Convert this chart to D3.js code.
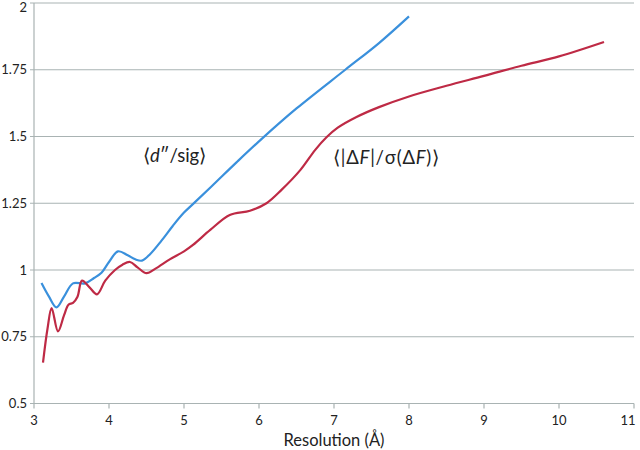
<!DOCTYPE html>
<html><head><meta charset="utf-8">
<script src="https://cdnjs.cloudflare.com/ajax/libs/d3/7.8.5/d3.min.js"></script>
<style>body{margin:0;background:#fff}svg{display:block;font-family:Lato,"Open Sans",sans-serif}</style>
</head><body><svg id="c" width="640" height="450"></svg>
<script>
const xTicks = [3,4,5,6,7,8,9,10,11];
const yTicks = [0.5,0.75,1,1.25,1.5,1.75,2];
const yTickLabels = ["0.5","0.75","1","1.25","1.5","1.75","2"];
const sigRes = [3.1,3.2,3.3,3.4,3.52,3.68,3.8,3.9,4.0,4.12,4.25,4.35,4.44,4.55,4.7,4.85,5.0,5.15,5.4,5.7,6.04,6.5,7.15,7.6,8.0];
const sigVal = [0.951,0.9,0.86,0.9,0.95,0.95,0.97,0.99,1.03,1.07,1.055,1.04,1.035,1.06,1.11,1.165,1.215,1.255,1.322,1.403,1.492,1.605,1.75,1.85,1.95];
const dfRes = [3.12,3.18,3.235,3.32,3.4,3.46,3.52,3.58,3.64,3.74,3.84,3.95,4.08,4.18,4.28,4.38,4.5,4.62,4.81,5.0,5.12,5.35,5.61,5.88,6.1,6.3,6.55,6.75,6.9,7.05,7.3,7.6,8.0,8.5,9.0,9.5,10.0,10.6];
const dfVal = [0.653,0.78,0.857,0.77,0.83,0.87,0.877,0.9,0.96,0.935,0.909,0.96,1.0,1.02,1.03,1.01,0.988,1.005,1.04,1.07,1.094,1.15,1.206,1.222,1.25,1.3,1.374,1.45,1.497,1.533,1.573,1.61,1.65,1.69,1.727,1.765,1.80,1.854];

const svg = d3.select("#c");
const x = d3.scaleLinear().domain([3,11]).range([34,634]);
const y = d3.scaleLinear().domain([0.5,2]).range([403.5,3]);
const grid = "#a9b3b3";

svg.append("g").selectAll("line").data(yTicks).join("line")
  .attr("x1",30).attr("x2",634).attr("y1",d=>y(d)).attr("y2",d=>y(d))
  .attr("stroke",grid).attr("stroke-width",1.2);
svg.append("line").attr("x1",34).attr("x2",34).attr("y1",y(2)).attr("y2",y(0.5)+0.5)
  .attr("stroke",grid).attr("stroke-width",1.2);
svg.append("g").selectAll("line").data(xTicks).join("line")
  .attr("x1",d=>x(d)).attr("x2",d=>x(d)).attr("y1",y(0.5)).attr("y2",y(0.5)+5)
  .attr("stroke",grid).attr("stroke-width",1.2);
svg.append("g").selectAll("text").data(yTicks).join("text")
  .attr("x",27).attr("y",d=>Math.max(y(d)+4.5,12)).attr("text-anchor","end")
  .attr("font-size",13).attr("fill","#222").text((d,i)=>yTickLabels[i]);
svg.append("g").selectAll("text").data(xTicks).join("text")
  .attr("x",d=>Math.min(x(d),628)).attr("y",425).attr("text-anchor","middle")
  .attr("font-size",13).attr("fill","#222").text(d=>d);
svg.append("text").attr("x",334).attr("y",446).attr("text-anchor","middle")
  .attr("font-size",16.5).attr("fill","#222").text("Resolution (Å)");

const line = d3.line().x(d=>x(d[0])).y(d=>y(d[1])).curve(d3.curveCatmullRom.alpha(0.5));
svg.append("path").datum(sigRes.map((r,i)=>[r,sigVal[i]]))
  .attr("d",line).attr("fill","none").attr("stroke","#3a90dc").attr("stroke-width",2.2);
svg.append("path").datum(dfRes.map((r,i)=>[r,dfVal[i]]))
  .attr("d",line).attr("fill","none").attr("stroke","#be2a45").attr("stroke-width",2.2);

const a1 = svg.append("text").attr("x",143).attr("y",162).attr("font-size",18.5).attr("fill","#222");
a1.append("tspan").text("⟨");
a1.append("tspan").attr("font-style","italic").text("d");
a1.append("tspan").text("″/sig⟩");
const a2 = svg.append("text").attr("x",333).attr("y",164).attr("font-size",18.5).attr("fill","#222")
  .attr("letter-spacing",0.8);
a2.append("tspan").text("⟨|Δ");
a2.append("tspan").attr("font-style","italic").text("F");
a2.append("tspan").text("|/σ(Δ");
a2.append("tspan").attr("font-style","italic").text("F");
a2.append("tspan").text(")⟩");
</script></body></html>
